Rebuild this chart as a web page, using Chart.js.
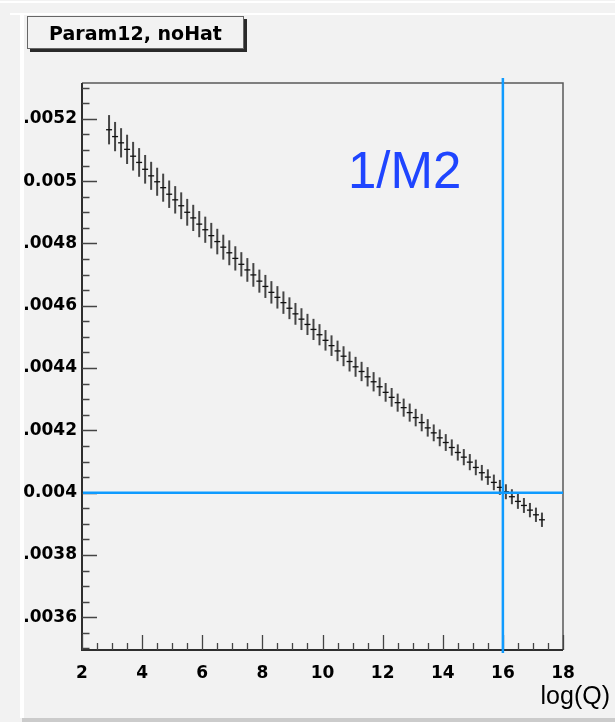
<!DOCTYPE html>
<html>
<head>
<meta charset="utf-8">
<script src="https://cdn.jsdelivr.net/npm/chart.js@4.4.1/dist/chart.umd.min.js"></script>
<style>
  html, body { margin: 0; padding: 0; background: #f2f2f2; }
  #wrap { position: relative; width: 615px; height: 722px; overflow: hidden; }
  #plot { position: absolute; left: 0; top: 0; }
  .edge { position: absolute; background: #ffffff; }
  #titleBox {
    position: absolute; left: 27px; top: 16px; width: 215px; height: 31px;
    border: 1px solid #666; background: #f2f2f2;
    box-shadow: 3px 3px 0 #2a2a2a;
    font: bold 19px "DejaVu Sans", sans-serif; color: #000;
    display: flex; align-items: center; justify-content: center;
  }
  #xTitle {
    position: absolute; right: 5px; top: 681px;
    font: 25px "Liberation Sans", Arial, sans-serif; color: #000;
  }
</style>
</head>
<body>
<div id="wrap">
  <div class="edge" style="left:0;top:1px;width:615px;height:2px;"></div>
  <div class="edge" style="left:10px;top:13px;width:605px;height:2px;"></div>
  <div class="edge" style="left:20px;top:13px;width:4px;height:705px;"></div>
  <div style="position:absolute;left:22px;top:718px;width:593px;height:4px;background:#cbcbcb;"></div>
  <canvas id="plot" width="615" height="722"></canvas>
  <div id="titleBox">Param12, noHat</div>
  <div id="xTitle">log(Q)</div>
</div>
<script>
// bin centres, log(Q)
const logQ = [
  2.9, 3.1, 3.3, 3.5, 3.7, 3.9, 4.1, 4.3, 4.5, 4.7,
  4.9, 5.1, 5.3, 5.5, 5.7, 5.9, 6.1, 6.3, 6.5, 6.7,
  6.9, 7.1, 7.3, 7.5, 7.7, 7.9, 8.1, 8.3, 8.5, 8.7,
  8.9, 9.1, 9.3, 9.5, 9.7, 9.9, 10.1, 10.3, 10.5, 10.7,
  10.9, 11.1, 11.3, 11.5, 11.7, 11.9, 12.1, 12.3, 12.5, 12.7,
  12.9, 13.1, 13.3, 13.5, 13.7, 13.9, 14.1, 14.3, 14.5, 14.7,
  14.9, 15.1, 15.3, 15.5, 15.7, 15.9, 16.1, 16.3, 16.5, 16.7,
  16.9, 17.1, 17.3
];
const param12 = [
  0.005165, 0.005143, 0.005123, 0.005102, 0.005080, 0.005060, 0.005038, 0.005017, 0.004998, 0.004979,
  0.004958, 0.004940, 0.004921, 0.004900, 0.004882, 0.004862, 0.004844, 0.004825, 0.004806, 0.004788,
  0.004770, 0.004752, 0.004733, 0.004715, 0.004699, 0.004679, 0.004662, 0.004643, 0.004627, 0.004610,
  0.004592, 0.004574, 0.004557, 0.004540, 0.004524, 0.004507, 0.004489, 0.004472, 0.004455, 0.004438,
  0.004421, 0.004404, 0.004389, 0.004372, 0.004356, 0.004340, 0.004322, 0.004306, 0.004289, 0.004273,
  0.004257, 0.004241, 0.004225, 0.004208, 0.004192, 0.004176, 0.004161, 0.004145, 0.004129, 0.004114,
  0.004098, 0.004081, 0.004064, 0.004050, 0.004033, 0.004017, 0.004003, 0.003987, 0.003972, 0.003959,
  0.003944, 0.003929, 0.003913
];
const param12Err = [
  0.000047, 0.000047, 0.000047, 0.000047, 0.000046, 0.000046, 0.000046, 0.000045, 0.000045, 0.000045,
  0.000044, 0.000044, 0.000043, 0.000043, 0.000042, 0.000042, 0.000042, 0.000041, 0.000041, 0.000040,
  0.000040, 0.000039, 0.000039, 0.000038, 0.000038, 0.000037, 0.000037, 0.000036, 0.000036, 0.000036,
  0.000035, 0.000035, 0.000035, 0.000034, 0.000034, 0.000034, 0.000033, 0.000033, 0.000033, 0.000032,
  0.000032, 0.000032, 0.000031, 0.000031, 0.000031, 0.000030, 0.000030, 0.000030, 0.000029, 0.000029,
  0.000029, 0.000028, 0.000028, 0.000028, 0.000027, 0.000027, 0.000027, 0.000026, 0.000026, 0.000026,
  0.000026, 0.000025, 0.000025, 0.000025, 0.000025, 0.000024, 0.000024, 0.000024, 0.000024, 0.000024,
  0.000023, 0.000023, 0.000023
];
const yTickValues = [0.0036, 0.0038, 0.004, 0.0042, 0.0044, 0.0046, 0.0048, 0.005, 0.0052];
const yTickLabels = ['.0036', '.0038', '0.004', '.0042', '.0044', '.0046', '.0048', '0.005', '.0052'];
const xRange = [2, 18];
const yRange = [0.003495, 0.005315];
const refQ = 16;       // vertical marker
const refValue = 0.004; // horizontal marker
const markerText = '1/M2';

const blue = '#0f9bff';

const rootStyle = {
  id: 'rootStyle',
  beforeDatasetsDraw(chart) {
    const { ctx, scales: { x, y } } = chart;
    ctx.save();
    ctx.strokeStyle = '#454545';
    ctx.lineWidth = 2;
    logQ.forEach((q, i) => {
      const px = x.getPixelForValue(q);
      ctx.beginPath();
      ctx.moveTo(px, y.getPixelForValue(param12[i] + param12Err[i]));
      ctx.lineTo(px, y.getPixelForValue(param12[i] - param12Err[i]));
      ctx.stroke();
    });
    ctx.restore();
  },
  afterDraw(chart) {
    const { ctx, chartArea: a, scales: { x, y } } = chart;
    ctx.save();

    // frame
    ctx.strokeStyle = '#5a5a5a';
    ctx.lineWidth = 1.5;
    ctx.beginPath();
    ctx.moveTo(a.left, a.top);
    ctx.lineTo(a.right, a.top);
    ctx.lineTo(a.right, a.bottom);
    ctx.stroke();
    ctx.strokeStyle = '#2e2e2e';
    ctx.lineWidth = 2;
    ctx.beginPath();
    ctx.moveTo(a.left, a.top);
    ctx.lineTo(a.left, a.bottom);
    ctx.lineTo(a.right, a.bottom);
    ctx.stroke();

    // ticks, inside the frame
    ctx.strokeStyle = '#444';
    ctx.lineWidth = 1.3;
    ctx.beginPath();
    for (let v = 0.0035; v <= yRange[1]; v += 0.00005) {
      const py = Math.round(y.getPixelForValue(v)) + 0.5;
      const major = Math.abs(v / 0.0002 - Math.round(v / 0.0002)) < 1e-6;
      ctx.moveTo(a.left, py);
      ctx.lineTo(a.left + (major ? 15 : 7.5), py);
    }
    for (let q = xRange[0]; q <= xRange[1]; q += 0.5) {
      const px = Math.round(x.getPixelForValue(q)) + 0.5;
      const major = q % 2 === 0;
      ctx.moveTo(px, a.bottom);
      ctx.lineTo(px, a.bottom - (major ? 15 : 7));
    }
    ctx.stroke();

    // reference lines
    ctx.strokeStyle = blue;
    ctx.lineWidth = 2.5;
    const hy = y.getPixelForValue(refValue);
    const vx = x.getPixelForValue(refQ);
    ctx.beginPath();
    ctx.moveTo(a.left + 1, hy);
    ctx.lineTo(a.right, hy);
    ctx.moveTo(vx, a.top - 5);
    ctx.lineTo(vx, a.bottom + 3);
    ctx.stroke();

    ctx.fillStyle = '#1f45ff';
    ctx.font = '51px "Liberation Sans", Arial, sans-serif';
    ctx.textBaseline = 'alphabetic';
    ctx.fillText(markerText, 348, 188);
    ctx.restore();
  }
};

Chart.defaults.font.family = '"DejaVu Sans", sans-serif';
Chart.defaults.color = '#000';

new Chart(document.getElementById('plot'), {
  type: 'scatter',
  data: {
    datasets: [{
      data: logQ.map((q, i) => ({ x: q, y: param12[i] })),
      pointStyle: 'line',
      pointRadius: 3,
      borderColor: '#111',
      backgroundColor: '#111',
      borderWidth: 1.3,
      showLine: false
    }]
  },
  options: {
    responsive: false,
    animation: false,
    events: [],
    layout: { padding: { top: 83, right: 52, left: 0, bottom: 0 } },
    plugins: { legend: { display: false }, tooltip: { enabled: false } },
    scales: {
      x: {
        type: 'linear',
        min: xRange[0],
        max: xRange[1],
        grid: { display: false, drawTicks: false },
        border: { display: false },
        ticks: { stepSize: 2, padding: 13, maxRotation: 0, font: { size: 17, weight: 'bold' } },
        afterFit: s => { s.height = 72; }
      },
      y: {
        type: 'linear',
        min: yRange[0],
        max: yRange[1],
        grid: { display: false, drawTicks: false },
        border: { display: false },
        afterBuildTicks: s => { s.ticks = yTickValues.map(v => ({ value: v })); },
        ticks: {
          padding: 5,
          font: { size: 17, weight: 'bold' },
          callback: (v, i) => yTickLabels[i]
        },
        afterFit: s => { s.width = 82; }
      }
    }
  },
  plugins: [rootStyle]
});
</script>
</body>
</html>
